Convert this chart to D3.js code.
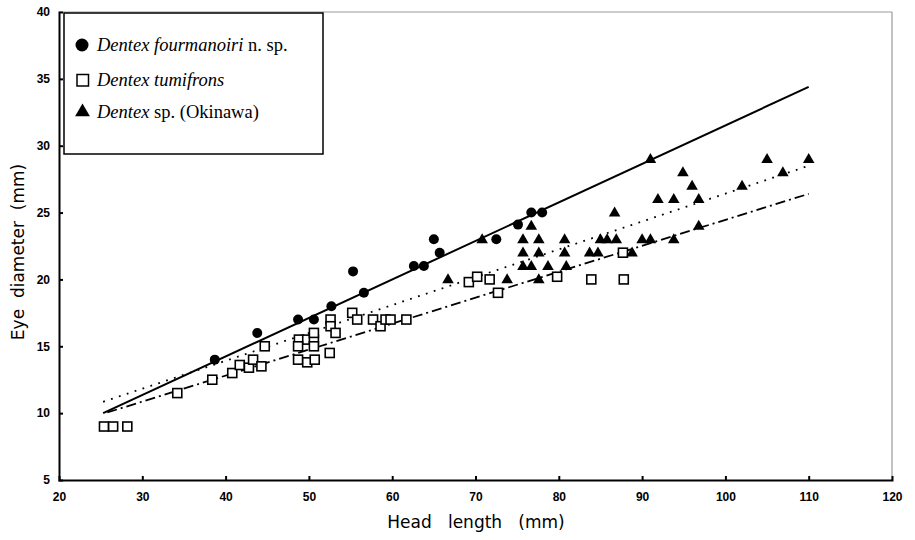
<!DOCTYPE html>
<html><head><meta charset="utf-8">
<script src="https://cdn.jsdelivr.net/npm/d3@7"></script>
<style>body{margin:0;background:#fff}svg{display:block}</style>
</head><body>
<svg id="c" width="915" height="540"></svg>
<script>
// Dentex fourmanoiri n. sp. (filled circles): [head length, eye diameter]
const fourmanoiri = [[38.7,14],[43.8,16],[48.7,17],[50.6,17],[52.7,18],[55.3,20.6],[56.6,19],
  [62.6,21],[63.8,21],[65,23],[65.7,22],[72.5,23],[75.1,24.1],[76.7,25],[78,25]];
// Dentex tumifrons (open squares)
const tumifrons = [[25.4,9],[26.5,9],[28.2,9],[34.2,11.5],[38.4,12.5],[40.8,13],[41.7,13.6],[42.8,13.4],
  [43.3,14],[44.3,13.5],[44.7,15],[48.8,15.5],[49.8,15.5],[50.6,15.5],[50.6,16],[48.7,15],[50.6,15],
  [48.7,14],[49.8,13.8],[50.7,14],[52.6,17],[52.6,16.5],[53.2,16],[52.5,14.5],[55.2,17.5],[55.8,17],
  [57.7,17],[58.6,16.5],[59.2,17],[59.8,17],[61.7,17],[69.2,19.8],[70.2,20.2],[71.7,20],[72.7,19],
  [79.8,20.2],[83.9,20],[87.8,20],[87.7,22]];
// Dentex sp. (Okinawa) (filled triangles)
const okinawa = [[66.7,20],[70.8,23],[73.8,20],[75.7,23],[75.7,22],[75.7,21],[76.7,21],[76.7,24],
  [77.6,23],[77.6,22],[77.6,20],[78.7,21],[80.7,23],[80.7,22],[80.9,21],[83.7,22],[84.7,22],
  [85,23],[85.8,23],[86.9,23],[86.7,25],[88.8,22],[90,23],[91,23],[91,29],[91.9,26],[93.8,26],
  [93.8,23],[94.9,28],[96,27],[96.8,26],[96.8,24],[102,27],[105,29],[106.9,28],[110,29]];
// regression lines [x, y] end points
const lineFourmanoiri = [[25.3,10.0],[110,34.4]];
const lineOkinawa = [[25.3,10.85],[110,28.5]];
const lineTumifrons = [[25.8,10.05],[110,26.4]];
const xTicks = [20,30,40,50,60,70,80,90,100,110,120];
const yTicks = [5,10,15,20,25,30,35,40];

const svg = d3.select("#c");
const L=59, R=892, T=12, B=480;
const x = d3.scaleLinear().domain([20,120]).range([L,R]);
const y = d3.scaleLinear().domain([5,40]).range([B,T]);

// frame: top & right light
svg.append("line").attr("x1",L).attr("x2",R).attr("y1",T).attr("y2",T).attr("stroke","#bbb").attr("stroke-width",1.5);
svg.append("line").attr("x1",R).attr("x2",R).attr("y1",T).attr("y2",B).attr("stroke","#999").attr("stroke-width",1.2);

// axes
const xa = svg.append("g").attr("transform",`translate(0,${B})`)
  .call(d3.axisBottom(x).tickValues(xTicks).tickSize(-4).tickPadding(12).tickFormat(d3.format("d")));
const ya = svg.append("g").attr("transform",`translate(${L},0)`)
  .call(d3.axisLeft(y).tickValues(yTicks).tickSize(-4).tickPadding(9).tickFormat(d3.format("d")));
[xa,ya].forEach(a=>{
  a.select(".domain").attr("stroke","#000").attr("stroke-width",2);
  a.selectAll(".tick line").attr("stroke","#000").attr("stroke-width",2);
  a.selectAll("text").attr("font-family","Liberation Sans, Arial, sans-serif").attr("font-size",12)
    .attr("font-weight","bold").attr("fill","#000");
});
ya.selectAll(".tick").filter(d=>d===5||d===40).select("line").remove();
xa.selectAll(".tick").filter(d=>d===20||d===120).select("line").remove();

// regression lines
const lg = d3.line().x(d=>x(d[0])).y(d=>y(d[1]));
svg.append("path").datum(lineFourmanoiri).attr("d",lg).attr("fill","none").attr("stroke","#000").attr("stroke-width",2);
svg.append("path").datum(lineOkinawa).attr("d",lg).attr("fill","none").attr("stroke","#000").attr("stroke-width",1.8)
  .attr("stroke-dasharray","1.8,6.5");
svg.append("path").datum(lineTumifrons).attr("d",lg).attr("fill","none").attr("stroke","#000").attr("stroke-width",1.8)
  .attr("stroke-dasharray","10,4,2,4");

// markers
svg.append("g").selectAll("rect").data(tumifrons).join("rect")
  .attr("x",d=>x(d[0])-4.5).attr("y",d=>y(d[1])-4.5).attr("width",9).attr("height",9)
  .attr("fill","#fff").attr("stroke","#000").attr("stroke-width",1.6);
const tri = d3.symbol().type(d3.symbolTriangle).size(58);
svg.append("g").selectAll("path").data(okinawa).join("path")
  .attr("transform",d=>`translate(${x(d[0])},${y(d[1])+0.5})`).attr("d",tri).attr("fill","#000");
svg.append("g").selectAll("circle").data(fourmanoiri).join("circle")
  .attr("cx",d=>x(d[0])).attr("cy",d=>y(d[1])).attr("r",5).attr("fill","#000");

// legend
const lgd = svg.append("g");
lgd.append("rect").attr("x",64).attr("y",13).attr("width",259).attr("height",141)
  .attr("fill","#fff").attr("stroke","#000").attr("stroke-width",1.5);
lgd.append("circle").attr("cx",82).attr("cy",45).attr("r",6.5).attr("fill","#000");
lgd.append("rect").attr("x",77).attr("y",74.5).attr("width",11.5).attr("height",11.5).attr("fill","#fff").attr("stroke","#000").attr("stroke-width",1.5);
lgd.append("path").attr("transform","translate(82.5,112)").attr("d",d3.symbol().type(d3.symbolTriangle).size(95)).attr("fill","#000");
const ff = "Liberation Serif, Times New Roman, serif";
const fs = 18.5;
const t1 = lgd.append("text").attr("x",97).attr("y",51).attr("font-family",ff).attr("font-size",fs);
t1.append("tspan").attr("font-style","italic").text("Dentex fourmanoiri");
t1.append("tspan").text(" n. sp.");
const t2 = lgd.append("text").attr("x",97).attr("y",86).attr("font-family",ff).attr("font-size",fs);
t2.append("tspan").attr("font-style","italic").text("Dentex tumifrons");
const t3 = lgd.append("text").attr("x",97).attr("y",118).attr("font-family",ff).attr("font-size",fs);
t3.append("tspan").attr("font-style","italic").text("Dentex");
t3.append("tspan").text(" sp. (Okinawa)");

// axis titles
svg.append("text").attr("x",476).attr("y",528).attr("text-anchor","middle")
  .attr("font-family","DejaVu Sans, sans-serif").attr("font-size",17)
  .style("white-space","pre").text("Head   length   (mm)");
svg.append("text").attr("transform","translate(24,252) rotate(-90)").attr("text-anchor","middle")
  .attr("font-family","DejaVu Sans, sans-serif").attr("font-size",17)
  .style("white-space","pre").text("Eye  diameter  (mm)");
</script>
</body></html>
